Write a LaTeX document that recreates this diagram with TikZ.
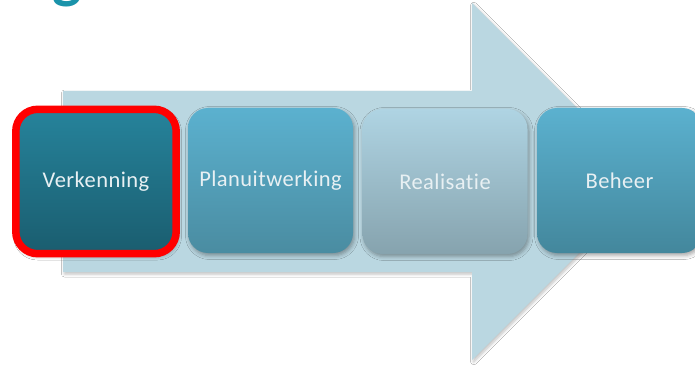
\documentclass[tikz,border=0pt]{standalone}
\usepackage{fontspec}
\setmainfont{Carlito}[Ligatures=NoCommon, LetterSpace=2]
\usetikzlibrary{shadows.blur}
\definecolor{arrowc}{HTML}{BAD7E1}
\definecolor{titlec}{HTML}{1A93AA}
\definecolor{vtop}{HTML}{26839B}
\definecolor{vbot}{HTML}{1A5D6F}
\definecolor{ptop}{HTML}{5BB1CF}
\definecolor{pbot}{HTML}{4A8CA1}
\definecolor{rtop}{HTML}{AFD4E3}
\definecolor{rbot}{HTML}{86A3AE}
\definecolor{btop}{HTML}{5BB1CF}
\definecolor{bbot}{HTML}{43879C}
\definecolor{txtc}{HTML}{E8F0F3}
\definecolor{hired}{HTML}{FF0000}
\tikzset{
  stagebox/.style={rounded corners=20pt, minimum width=165pt, minimum height=145pt,
    inner sep=0pt, text=txtc, font=\fontsize{22.5}{26}\selectfont,
    blur shadow={shadow xshift=1.5pt, shadow yshift=-2.5pt, shadow opacity=35, shadow blur radius=4pt}},
  highlight/.style={draw=hired, line width=7.5pt, rounded corners=22pt}
}
\begin{document}
\begin{tikzpicture}[x=1pt,y=-1pt]
\useasboundingbox (0,0) rectangle (695,366);
\clip (0,0) rectangle (695,366);
\fill[white] (0,0) rectangle (695,366);
% fragment of title glyph
\node[anchor=base, text=titlec, font=\fontsize{62}{62}\selectfont\bfseries, inner sep=0pt] (gfrag) at (67,-3) {g};
% big arrow
\path[fill=arrowc, blur shadow={shadow xshift=1.5pt, shadow yshift=-2pt, shadow opacity=25, shadow blur radius=3pt}]
  (63,91) -- (472,91) -- (472,3) -- (650.5,181.5) -- (472,360) -- (472,272) -- (63,272) -- cycle;
% stages
\node[stagebox, top color=vtop, bottom color=vbot, minimum width=160pt, minimum height=144pt] (verk) at (96,181.5) {Verkenning};
\node[stagebox, top color=ptop, bottom color=pbot] (plan) at (270.5,180.5) {Planuitwerking};
\node[stagebox, top color=rtop, bottom color=rbot] (real) at (445,181.5) {Realisatie};
\node[stagebox, top color=btop, bottom color=bbot] (beh) at (619.5,180.5) {Beheer};
% red highlight
\draw[highlight] (verk.south west) rectangle (verk.north east);
\end{tikzpicture}
\end{document}
